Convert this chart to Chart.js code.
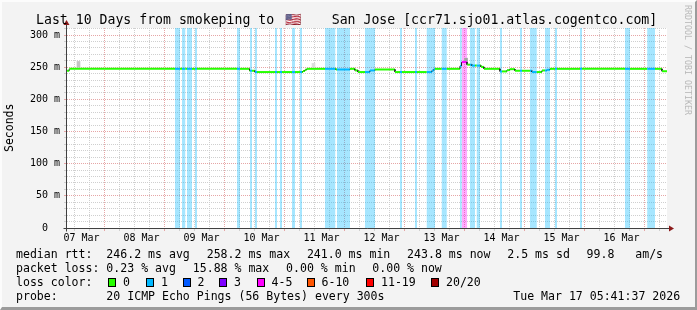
<!DOCTYPE html>
<html><head><meta charset="utf-8">
<script src="https://cdn.jsdelivr.net/npm/chart.js@4/dist/chart.umd.min.js"></script>
<style>
html,body{margin:0;padding:0;background:#f3f3f3;}
#wrap{position:relative;width:697px;height:310px;overflow:hidden;background:#f3f3f3;font-family:"DejaVu Sans Mono",monospace;color:#000;}
#frame{position:absolute;left:0;top:0;width:697px;height:310px;box-sizing:border-box;border-top:2px solid #fcfcfc;border-left:2px solid #fcfcfc;border-right:2px solid #9b9b9b;border-bottom:3px solid #9b9b9b;pointer-events:none;}
canvas{position:absolute;left:0;top:0;}
.t{position:absolute;white-space:pre;line-height:14px;font-size:11.55px;}
.sw{position:absolute;width:6px;height:7px;border:1px solid #000;}
#flag{display:inline-block;width:46.5px;padding-left:11px;text-align:left;}
</style></head><body>
<div id="wrap">
<canvas id="c" width="697" height="310"></canvas>
<div class="t" style="left:36px;top:12px;font-size:13.2px;line-height:15px;">Last 10 Days from smokeping to<span id="flag">🇺🇸</span>San Jose [ccr71.sjo01.atlas.cogentco.com]</div>
<div class="t" style="left:4px;top:152px;font-size:11.5px;line-height:11.5px;transform-origin:0 0;transform:rotate(-90deg);">Seconds</div>
<div class="t" style="left:684px;top:5px;font-size:8.3px;line-height:8.3px;color:#b8b8b8;transform-origin:0 0;transform:translate(8px,0) rotate(90deg);">RRDTOOL / TOBI OETIKER</div>
<div id="legend"></div>
<div id="frame"></div>
</div>
<script>
// ---- data (hours since 07 Mar 00:00) ----
const xMin = 6.2, xMax = 246.2, yMax = 311;
const dayLabels = ['07 Mar','08 Mar','09 Mar','10 Mar','11 Mar','12 Mar','13 Mar','14 Mar','15 Mar','16 Mar'];
const yLabelValues = [0, 50, 100, 150, 200, 250, 300];
const yLabels = ['0  ', '50 m', '100 m', '150 m', '200 m', '250 m', '300 m'];

const rttTimes  = [6.2, 7.1, 79.2, 81.4, 100.6, 101.4, 102.1, 113.8, 119.4, 121.4, 122.6, 127.4, 129.4, 137.4, 152.2, 153.0, 163.4, 164.0, 166.2, 168.2, 171.8, 173.0, 179.4, 182.2, 183.4, 185.4, 192.2, 196.2, 198.2, 199.4, 244.2];
const rttValues = [244.5, 247.5, 244.5, 242.5, 244, 246, 247.5, 246.5, 247.5, 245, 242.5, 245, 246.5, 242.5, 245, 247.5, 252, 258, 254, 252.5, 250.5, 247.5, 243.5, 245.5, 247, 244.5, 242.5, 245, 246, 247.5, 243.8];

const lossStart = [49.4, 52.2, 54.2, 57.4, 74.2, 79.4, 81.4, 89.4, 91.4, 96.2, 99.4, 109.4, 114.2, 125.4, 139.4, 145.4, 150.1, 156.1, 163.4, 164.1, 167.4, 170.1, 179.4, 187.4, 191.4, 197.4, 201.4, 211.4, 229.4, 238.3];
const lossEnd   = [51.4, 53.5, 56.2, 58.2, 75.4, 80.2, 82.2, 90.2, 92.2, 97.4, 100.2, 113.5, 119.4, 129.4, 140.2, 146.2, 153.4, 158.1, 164.1, 166.3, 169.4, 171.4, 180.2, 188.2, 194.1, 199.4, 202.2, 212.2, 231.4, 241.4];
const lossCount = [1, 1, 1, 1, 1, 1, 1, 1, 1, 1, 1, 1, 1, 1, 1, 1, 1, 1, 1, 4, 1, 1, 1, 1, 1, 1, 1, 1, 1, 1];

const smokeTimes = [10.8, 104.8, 165.8];
const smokeLow   = [250, 250, 258];
const smokeHigh  = [259, 256, 264];
const smokeShade = ['#c4c4c4', '#dddddd', '#a4a4a4'];

const lossLabels = ['0', '1', '2', '3', '4-5', '6-10', '11-19', '20/20'];
const lossColors = ['#26ff00', '#00b8ff', '#0059ff', '#7e00ff', '#ff00ff', '#ff5500', '#ff0000', '#a10000'];
const lossFill   = ['rgba(38,255,0,0.35)', 'rgba(0,184,255,0.35)', 'rgba(0,89,255,0.35)', 'rgba(126,0,255,0.35)', 'rgba(255,0,255,0.33)', 'rgba(255,85,0,0.35)', 'rgba(255,0,0,0.35)', 'rgba(161,0,0,0.35)'];

function bucket(n){ if(n<=0) return 0; if(n<=3) return n; if(n<=5) return 4; if(n<=10) return 5; if(n<=19) return 6; return 7; }
function rttAt(t){ let v = rttValues[0]; for(let i=0;i<rttTimes.length;i++){ if(rttTimes[i] <= t) v = rttValues[i]; } return v; }
function lossAt(t){ for(let i=0;i<lossStart.length;i++){ if(t>=lossStart[i] && t<lossEnd[i]) return lossCount[i]; } return 0; }

// median line points, split at rtt and loss changes
const cutSet = new Set(rttTimes.concat([xMax]));
lossStart.forEach((s,i)=>{ cutSet.add(s); cutSet.add(lossEnd[i]); });
const cuts = [...cutSet].filter(t=>t>=rttTimes[0] && t<=xMax).sort((a,b)=>a-b);
const medianPts = [];
for(let k=0;k<cuts.length-1;k++){
  const a=cuts[k], b=cuts[k+1], m=(a+b)/2, v=rttAt(m), l=lossAt(m);
  medianPts.push({x:a, y:v, l:l});
  medianPts.push({x:b, y:v, l:l});
}

// loss background datasets, one per loss bucket present
const lossSets = [];
const buckets = [...new Set(lossCount.map(bucket))];
buckets.forEach(bk=>{
  const pts = [];
  lossStart.forEach((s,i)=>{
    if(bucket(lossCount[i])!==bk) return;
    pts.push({x:s,y:0},{x:s,y:yMax},{x:lossEnd[i],y:yMax},{x:lossEnd[i],y:0});
  });
  lossSets.push({type:'line', data:pts, fill:'origin', backgroundColor:lossFill[bk], borderWidth:0, pointRadius:0, tension:0, order:2});
});

const xTicks = []; for(let v=12; v<=xMax; v+=6) xTicks.push(v);
const yTicks = []; for(let v=0; v<yMax; v+=10) yTicks.push(v);

const minorC = '#cfcfcf', majorC = '#e6a6a6';

const axisPlugin = {
  id:'axisPlugin',
  beforeDraw(chart){
    const {ctx, chartArea:a} = chart;
    ctx.save(); ctx.fillStyle='#ffffff';
    ctx.fillRect(a.left, a.top, a.right-a.left, a.bottom-a.top);
    ctx.restore();
  },
  afterDraw(chart){
    const {ctx, chartArea:a} = chart;
    const L = Math.round(a.left)-0.5, B = Math.round(a.bottom)+0.5;
    ctx.save();
    ctx.strokeStyle='#404040'; ctx.lineWidth=1;
    ctx.beginPath();
    ctx.moveTo(L, B+3); ctx.lineTo(L, a.top-5);
    ctx.moveTo(L-3, B); ctx.lineTo(a.right+4, B);
    ctx.stroke();
    ctx.fillStyle='#8b1a1a';
    ctx.beginPath(); ctx.moveTo(L-3, a.top-3); ctx.lineTo(L+3, a.top-3); ctx.lineTo(L, a.top-8); ctx.closePath(); ctx.fill();
    ctx.beginPath(); ctx.moveTo(a.right+2, B-3); ctx.lineTo(a.right+2, B+3); ctx.lineTo(a.right+7, B); ctx.closePath(); ctx.fill();
    ctx.restore();
  }
};

new Chart(document.getElementById('c'), {
  type:'line',
  data:{ datasets:[
    {type:'line', data:medianPts, borderColor:'#26ff00', borderWidth:2, pointRadius:0, tension:0, fill:false, order:0,
     segment:{
       borderColor: c => (c.p0.parsed.x===c.p1.parsed.x) ? '#202020' : lossColors[bucket(medianPts[c.p0DataIndex].l)],
       borderWidth: c => (c.p0.parsed.x===c.p1.parsed.x) ? 1 : 2
     }},
    {type:'bar', data:smokeTimes.map((t,i)=>({x:t, y:[smokeLow[i], smokeHigh[i]]})), backgroundColor:smokeShade, borderWidth:0, barThickness:3, grouped:false, order:1},
    ...lossSets
  ]},
  options:{
    responsive:false, animation:false, events:[],
    layout:{padding:{left:0, top:28, right:30, bottom:0}},
    plugins:{legend:{display:false}, tooltip:{enabled:false}, title:{display:false}},
    scales:{
      x:{type:'linear', min:xMin, max:xMax, offset:false,
        afterBuildTicks: s => { s.ticks = xTicks.map(v=>({value:v})); },
        afterFit: s => { s.height = 82; },
        border:{display:false, dash:[1,1]},
        grid:{color: c => (c.tick && c.tick.value%24===0) ? majorC : minorC, tickColor: c => (c.tick && c.tick.value%24===0) ? majorC : minorC, tickLength:3, tickBorderDash:[]},
        ticks:{autoSkip:false, maxRotation:0, padding:1, color:'#000', font:{family:'DejaVu Sans Mono', size:10},
          callback: v => (v%24===12) ? dayLabels[Math.floor(v/24)] : ''}
      },
      y:{min:0, max:yMax,
        afterBuildTicks: s => { s.ticks = yTicks.map(v=>({value:v})); },
        afterFit: s => { s.width = 67; },
        border:{display:false, dash:[1,1]},
        grid:{color: c => (c.tick && c.tick.value%50===0) ? majorC : minorC, tickColor: c => (c.tick && c.tick.value%50===0) ? majorC : minorC, tickLength:3, tickBorderDash:[]},
        ticks:{autoSkip:false, padding:4, color:'#000', font:{family:'DejaVu Sans Mono', size:10},
          callback: v => { const i = yLabelValues.indexOf(v); return i>=0 ? yLabels[i] : ''; }}
      }
    }
  },
  plugins:[axisPlugin]
});

// ---- legend text ----
const legendRows = [
  {top:246.6, items:[[16,'median rtt:  246.2 ms avg'],[206.7,'258.2 ms max'],[306.9,'241.0 ms min'],[407.1,'243.8 ms now'],[507.3,'2.5 ms sd'],[586.6,'99.8   am/s']]},
  {top:260.6, items:[[16,'packet loss: 0.23 % avg'],[192.8,'15.88 % max'],[286.1,'0.00 % min'],[372.3,'0.00 % now']]},
  {top:274.6, items:[[16,'loss color:']]},
  {top:288.6, items:[[16,'probe:       20 ICMP Echo Pings (56 Bytes) every 300s'],[513.3,'Tue Mar 17 05:41:37 2026']]}
];
const swatchX = [108, 146, 182.5, 219, 256.5, 306.5, 366, 431];
const leg = document.getElementById('legend');
legendRows.forEach(r => r.items.forEach(([x,txt]) => {
  const d = document.createElement('div'); d.className='t'; d.style.left=x+'px'; d.style.top=r.top+'px'; d.textContent=txt; leg.appendChild(d);
}));
lossLabels.forEach((lab,i) => {
  const s = document.createElement('div'); s.className='sw'; s.style.left=swatchX[i]+'px'; s.style.top='277.6px'; s.style.background=lossColors[i]; leg.appendChild(s);
  const d = document.createElement('div'); d.className='t'; d.style.left=(swatchX[i]+15)+'px'; d.style.top='274.6px'; d.textContent=lab; leg.appendChild(d);
});
</script>
</body></html>
